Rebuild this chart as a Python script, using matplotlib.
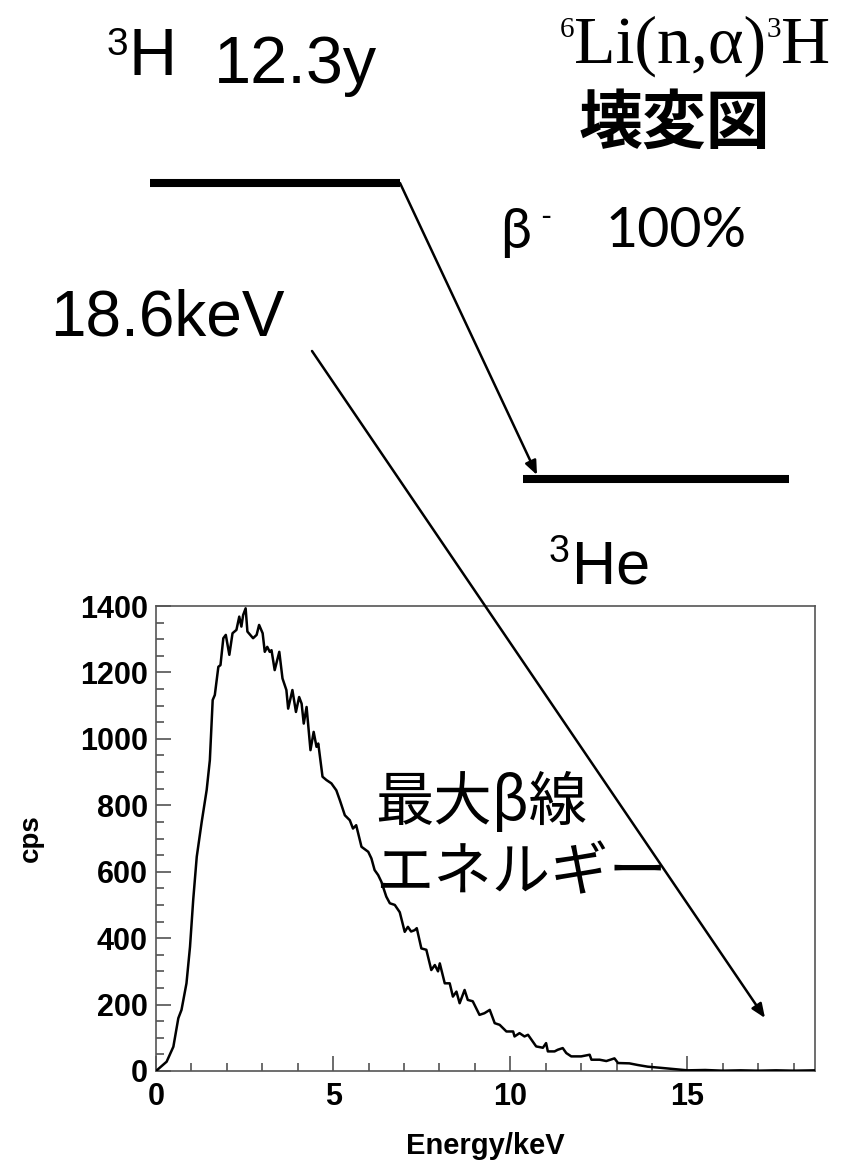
import matplotlib
matplotlib.use('Agg')
import matplotlib.pyplot as plt
from matplotlib.lines import Line2D
from matplotlib.patches import FancyArrowPatch
from matplotlib.ticker import MultipleLocator

W, H = 841, 1168

# ---- spectrum data ----
energy_kev = [0.00, 0.30, 0.49, 0.63, 0.72, 0.86, 0.96, 1.05, 1.15, 1.29,
              1.43, 1.52, 1.60, 1.66, 1.76, 1.82, 1.90, 1.97, 2.07, 2.16,
              2.27, 2.35, 2.41, 2.46, 2.53, 2.58, 2.74, 2.84, 2.91, 3.01,
              3.07, 3.14, 3.21, 3.26, 3.35, 3.48, 3.57, 3.68, 3.73, 3.85,
              3.95, 4.04, 4.11, 4.17, 4.25, 4.36, 4.45, 4.53, 4.58, 4.70,
              4.81, 4.95, 5.09, 5.19, 5.33, 5.47, 5.56, 5.65, 5.80, 5.99,
              6.08, 6.17, 6.27, 6.36, 6.50, 6.60, 6.74, 6.88, 7.02, 7.11,
              7.20, 7.30, 7.36, 7.49, 7.63, 7.77, 7.87, 7.96, 8.01, 8.15,
              8.29, 8.38, 8.48, 8.57, 8.71, 8.80, 8.94, 9.13, 9.27, 9.42,
              9.56, 9.70, 9.89, 10.08, 10.12, 10.26, 10.40, 10.50, 10.73, 10.92,
              11.01, 11.06, 11.25, 11.34, 11.48, 11.58, 11.72, 12.00, 12.24, 12.29,
              12.52, 12.71, 12.94, 13.04, 13.36, 13.60, 13.88, 14.20, 14.60, 15.00,
              15.50, 16.00, 16.50, 17.00, 17.50, 18.00, 18.60]
cps = [0, 28, 73, 159, 184, 264, 374, 515, 645, 750,
       846, 936, 1117, 1132, 1217, 1222, 1303, 1313, 1253, 1318,
       1328, 1368, 1338, 1373, 1393, 1323, 1303, 1313, 1343, 1318,
       1262, 1277, 1262, 1267, 1207, 1262, 1182, 1147, 1091, 1147,
       1081, 1126, 1106, 1046, 1096, 966, 1021, 976, 986, 886,
       876, 866, 845, 815, 770, 755, 730, 740, 675, 660,
       640, 605, 590, 570, 525, 505, 500, 478, 419, 434,
       420, 424, 430, 369, 365, 304, 319, 300, 324, 264,
       264, 224, 239, 204, 244, 214, 210, 169, 174, 184,
       144, 139, 119, 119, 104, 114, 104, 109, 74, 70,
       84, 59, 59, 64, 69, 54, 44, 44, 49, 34,
       34, 30, 38, 24, 23, 18, 13, 10, 6, 2,
       3, 1, 2, 1, 2, 1, 2]

x_ticks = [0, 5, 10, 15]
y_ticks = [0, 200, 400, 600, 800, 1000, 1200, 1400]
x_limits = (0, 18.6)
y_limits = (0, 1400)

fig = plt.figure(figsize=(W / 100, H / 100), dpi=100)
renderer = fig.canvas.get_renderer()


def fx(px):
    return px / W


def fy(py):
    return 1 - py / H


# ---- spectrum axes ----
ax = fig.add_axes([156 / W, 1 - 1071 / H, (815 - 156) / W, (1071 - 606) / H])
ax.plot(energy_kev, cps, color='black', lw=1.8, zorder=3)
ax.set_xlim(*x_limits)
ax.set_ylim(*y_limits)
ax.set_xticks(x_ticks)
ax.set_yticks(y_ticks)
ax.xaxis.set_minor_locator(MultipleLocator(1))
ax.yaxis.set_minor_locator(MultipleLocator(50))
ax.tick_params(which='major', direction='in', length=11, width=1.1,
               color='#444444', labelsize=22, pad=6)
ax.tick_params(which='minor', direction='in', length=6, width=1.1,
               color='#444444')
ax.tick_params(axis='x', pad=8)
for lab in ax.get_xticklabels() + ax.get_yticklabels():
    lab.set_family('Liberation Sans')
    lab.set_fontweight('bold')
for sp in ax.spines.values():
    sp.set_color('#555555')
    sp.set_linewidth(1.2)
ax.set_ylabel('cps', family='Liberation Sans', weight='bold', fontsize=20,
              labelpad=26)
ax.set_xlabel('Energy/keV', family='Liberation Sans', weight='bold',
              fontsize=21, labelpad=14)

# ---- decay scheme text ----
sans = 'Liberation Sans'
serif = 'Liberation Serif'
cjk = ['Noto Sans CJK JP', 'DejaVu Sans']
cal = ['Lato', 'Open Sans', 'DejaVu Sans']


def put(x, y, s, **kw):
    kw.setdefault('va', 'baseline')
    kw.setdefault('ha', 'left')
    return fig.text(fx(x), fy(y), s, **kw)


def run_right(x_right, parts):
    """Place text pieces side by side so that the last ends at x_right."""
    texts = []
    for s, y, size in parts:
        t = put(0, y, s, family=serif, fontsize=size)
        texts.append(t)
    widths = [t.get_window_extent(renderer).width for t in texts]
    x = x_right - sum(widths)
    for t, w in zip(texts, widths):
        t.set_x(fx(x))
        x += w


put(107, 55, '3', family=sans, fontsize=28)
put(128, 75, 'H', family=sans, fontsize=48)
put(214, 83, '12.3y', family=sans, fontsize=48)

run_right(830, [('6', 37, 21), ('Li(n,α)', 63, 49), ('3', 37, 21), ('H', 63, 49)])

put(674, 124, '壊変図', family=cjk, fontsize=46, weight='bold',
    ha='center', va='center')

put(500, 248, 'β', family=cal, fontsize=40)
put(540, 226, '-', family=cal, fontsize=22)
put(606, 247, '100%', family=cal, fontsize=40)

put(50, 336, '18.6keV', family=sans, fontsize=46)

put(549, 562, '3', family=sans, fontsize=27)
put(572, 583, 'He', family=sans, fontsize=44)

put(375, 803, '最大β線', family=cjk, fontsize=42, va='center')
put(375, 874, 'エネルギー', family=cjk, fontsize=42, va='center')

# ---- energy levels and transitions ----
fig.add_artist(Line2D([fx(150), fx(400)], [fy(183), fy(183)],
                      transform=fig.transFigure, color='black', lw=5.8,
                      solid_capstyle='butt'))
fig.add_artist(Line2D([fx(523), fx(789)], [fy(479), fy(479)],
                      transform=fig.transFigure, color='black', lw=5.8,
                      solid_capstyle='butt'))

arrow_kw = dict(transform=fig.transFigure,
                arrowstyle='-|>,head_length=0.6,head_width=0.25',
                mutation_scale=14, color='black', lw=1.8, shrinkA=0, shrinkB=0,
                zorder=5)
fig.add_artist(FancyArrowPatch((fx(400), fy(183)), (fx(537), fy(475)), **arrow_kw))
fig.add_artist(FancyArrowPatch((fx(312), fy(351)), (fx(765), fy(1018)), **arrow_kw))

fig.savefig('out.png', dpi=100)
